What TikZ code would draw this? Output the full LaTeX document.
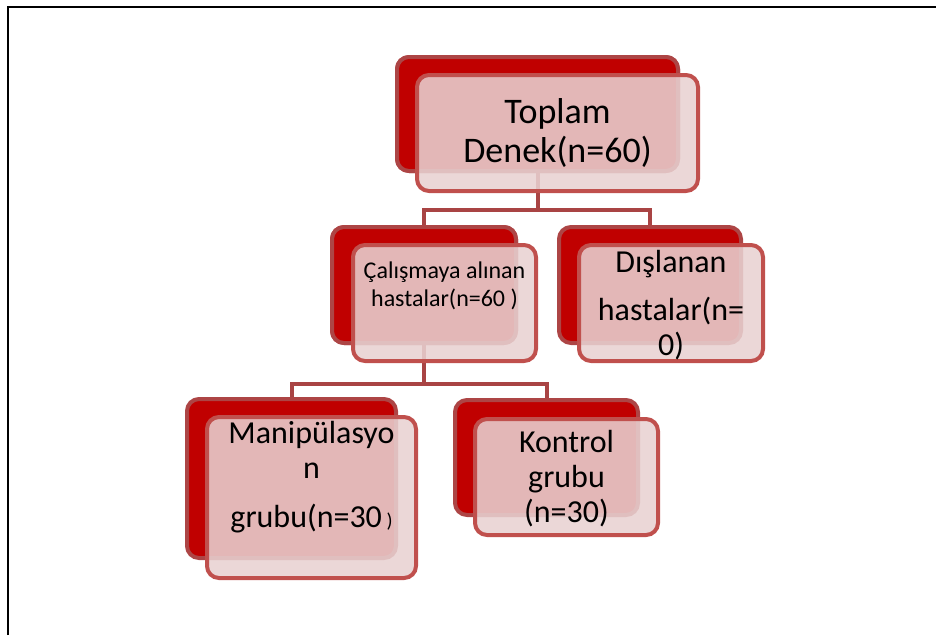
\documentclass[tikz,border=0pt]{standalone}
\usepackage{fontspec}
\setmainfont{Carlito}
\definecolor{backfill}{HTML}{C00000}
\definecolor{backline}{HTML}{AD4545}
\definecolor{frontfill}{HTML}{E8D1D1}
\definecolor{frontline}{HTML}{C0504D}
\definecolor{conn}{HTML}{A94444}
\tikzset{
  backbox/.style={rectangle, rounded corners=12pt, fill=backfill, draw=backline, line width=4pt, inner sep=0pt},
  frontbox/.style={rectangle, rounded corners=12pt, fill=frontfill, fill opacity=0.88, draw=frontline, line width=4pt, inner sep=0pt},
  conline/.style={draw=conn, line width=4pt},
  lbl/.style={anchor=base, align=center, inner sep=0pt, text=black},
}
\begin{document}
\begin{tikzpicture}[x=1pt,y=-1pt]
\useasboundingbox (0,0) rectangle (936,635);
% frame
\draw[line width=2pt] (7.5,635) -- (7.5,6.5) -- (936,6.5);
% back boxes
\node[backbox, minimum width=281pt, minimum height=114pt] (topb) at (537.5,114) {};
\node[backbox, minimum width=184pt, minimum height=116pt] (calb) at (424,285) {};
\node[backbox, minimum width=182pt, minimum height=116pt] (disb) at (650,285) {};
\node[backbox, minimum width=209pt, minimum height=159pt] (manb) at (291.5,478.5) {};
\node[backbox, minimum width=183pt, minimum height=115pt] (konb) at (546.5,457.5) {};
% connectors
\draw[conline] (topb.south) -- ++(0,37) -| (calb.north);
\draw[conline] (topb.south) -- ++(0,37) -| (disb.north);
\draw[conline] (calb.south) -- ++(0,39) -| (manb.north);
\draw[conline] (calb.south) -- ++(0,39) -| (konb.north);
% redraw back boxes over connector ends
\node[backbox, minimum width=281pt, minimum height=114pt] (topbb) at (537.5,114) {};
\node[backbox, minimum width=184pt, minimum height=116pt] (calbb) at (424,285) {};
% front boxes
\node[frontbox, minimum width=281pt, minimum height=116pt] (topf) at (557.5,133) {};
\node[frontbox, minimum width=183pt, minimum height=116pt] (calf) at (444.5,303) {};
\node[frontbox, minimum width=184pt, minimum height=116pt] (disf) at (671,303) {};
\node[frontbox, minimum width=209pt, minimum height=161pt] (manf) at (311.5,497.5) {};
\node[frontbox, minimum width=183pt, minimum height=116pt] (konf) at (566.5,477) {};
% texts (anchor base = baseline of last line)
\node[lbl, font=\fontsize{36}{39}\selectfont] (topt) at (557.5,162) {Toplam\\Denek(n=60)};
\node[lbl, font=\fontsize{24}{28}\selectfont] (calt) at (444.5,306) {Çalışmaya alınan\\hastalar(n=60 )};
\node[lbl, font=\fontsize{32}{35}\selectfont] (dist) at (671,355) {Dışlanan\\[13pt]hastalar(n=\\0)};
\node[lbl, font=\fontsize{32}{35}\selectfont] (mant) at (311.5,527) {Manipülasyo\\n\\[14pt]grubu(n=30{\fontsize{20}{20}\selectfont\ )}};
\node[lbl, font=\fontsize{32}{35}\selectfont] (kont) at (566.5,522) {Kontrol\\grubu\\(n=30)};
\end{tikzpicture}
\end{document}
